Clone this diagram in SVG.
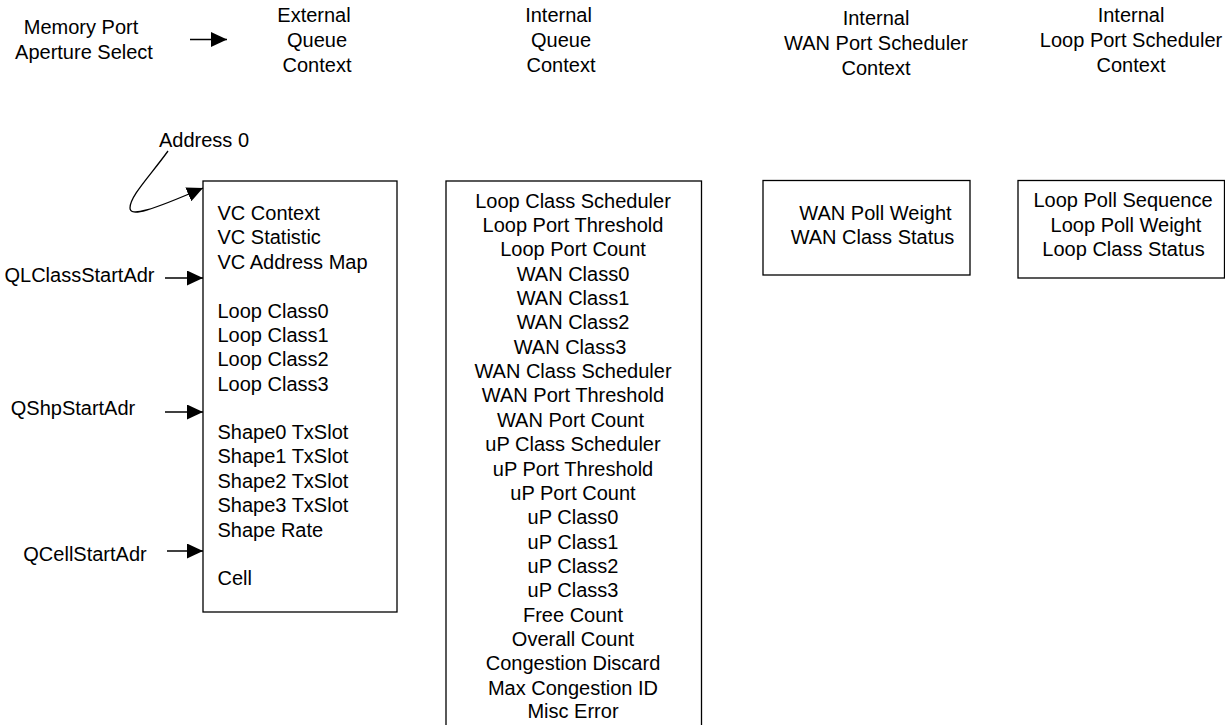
<svg xmlns="http://www.w3.org/2000/svg" width="1225" height="725" viewBox="0 0 1225 725">
<defs><marker id="a" markerWidth="16" markerHeight="15" refX="16" refY="7.5" orient="auto" markerUnits="userSpaceOnUse"><path d="M0 0L16 7.5L0 15Z" fill="#000"/></marker></defs>
<style>text{font-family:"Liberation Sans",Arial,sans-serif;font-size:20px;fill:#000}.m{text-anchor:middle}rect{fill:#fff;stroke:#000;stroke-width:1.3}.c path{fill:none;stroke:#000;stroke-width:1.3}</style>
<rect width="1225" height="725" style="stroke:none"/>
<g id="labels" class="m">
<text x="81" y="34">Memory Port</text><text x="84" y="59">Aperture Select</text>
<text x="314" y="22">External</text><text x="317" y="47">Queue</text><text x="317" y="72">Context</text>
<text x="558.5" y="22">Internal</text><text x="561" y="47">Queue</text><text x="561" y="72">Context</text>
<text x="876" y="25">Internal</text><text x="876" y="50">WAN Port Scheduler</text><text x="876" y="75">Context</text>
<text x="1131" y="22">Internal</text><text x="1131" y="47">Loop Port Scheduler</text><text x="1131" y="72">Context</text>
<text x="204" y="147">Address 0</text>
<text x="79.5" y="282">QLClassStartAdr</text><text x="73" y="415">QShpStartAdr</text><text x="85" y="561">QCellStartAdr</text>
</g>
<g id="external-queue"><rect x="203" y="181" width="194" height="431"/>
<text x="217.5" y="220">VC Context</text><text x="217.5" y="244">VC Statistic</text><text x="217.5" y="269">VC Address Map</text><text x="217.5" y="318">Loop Class0</text><text x="217.5" y="342">Loop Class1</text><text x="217.5" y="366">Loop Class2</text><text x="217.5" y="391">Loop Class3</text><text x="217.5" y="439">Shape0 TxSlot</text><text x="217.5" y="463">Shape1 TxSlot</text><text x="217.5" y="488">Shape2 TxSlot</text><text x="217.5" y="512">Shape3 TxSlot</text><text x="217.5" y="537">Shape Rate</text><text x="217.5" y="585">Cell</text></g>
<g id="internal-queue" class="m"><rect x="446" y="181" width="255.5" height="560"/>
<text x="573" y="208">Loop Class Scheduler</text><text x="573" y="232">Loop Port Threshold</text><text x="573" y="256">Loop Port Count</text><text x="573" y="281">WAN Class0</text><text x="573" y="305">WAN Class1</text><text x="573" y="329">WAN Class2</text><text x="570" y="354">WAN Class3</text><text x="573" y="378">WAN Class Scheduler</text><text x="573" y="402">WAN Port Threshold</text><text x="570.5" y="427">WAN Port Count</text><text x="573" y="451">uP Class Scheduler</text><text x="573" y="476">uP Port Threshold</text><text x="573" y="500">uP Port Count</text><text x="573" y="524">uP Class0</text><text x="573" y="549">uP Class1</text><text x="573" y="573">uP Class2</text><text x="573" y="597">uP Class3</text><text x="573" y="622">Free Count</text><text x="573" y="646">Overall Count</text><text x="573" y="670">Congestion Discard</text><text x="573" y="695">Max Congestion ID</text><text x="573" y="718">Misc Error</text></g>
<g id="wan-port" class="m"><rect x="763" y="180.5" width="207" height="94.5"/><text x="875.5" y="220">WAN Poll Weight</text><text x="872.5" y="244">WAN Class Status</text></g>
<g id="loop-port" class="m"><rect x="1018" y="180.5" width="206.5" height="97.5"/><text x="1123" y="207">Loop Poll Sequence</text><text x="1126" y="232">Loop Poll Weight</text><text x="1123.5" y="256">Loop Class Status</text></g>
<g id="connectors" class="c">
<path d="M190 39.5H227" marker-end="url(#a)"/><path d="M165 278H203" marker-end="url(#a)"/><path d="M165 412H203" marker-end="url(#a)"/><path d="M167 551H203" marker-end="url(#a)"/>
<path d="M168 151C150 176 130 196 130 208C130 217 150 211 203 188" marker-end="url(#a)"/>
</g>
</svg>
